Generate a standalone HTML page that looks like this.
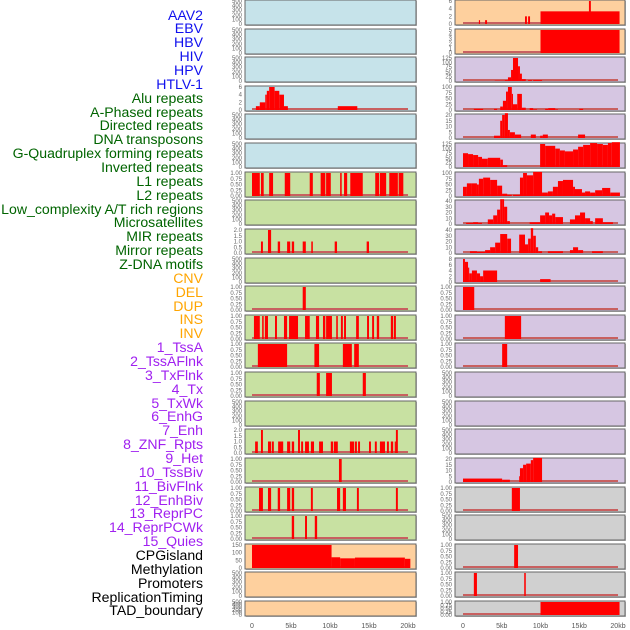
<!DOCTYPE html>
<html><head><meta charset="utf-8">
<style>
body{margin:0;background:#fff;}
#c{position:relative;width:630px;height:630px;overflow:hidden;font-family:"Liberation Sans",sans-serif;}
.lab{position:absolute;right:427px;font-size:14.1px;line-height:14px;white-space:nowrap;}
</style></head>
<body>
<div id="c">
<svg id="s" width="630" height="630" style="position:absolute;left:0;top:0"></svg>
</div>
<script>
const labels=["AAV2","EBV","HBV","HIV","HPV","HTLV-1","Alu repeats","A-Phased repeats","Directed repeats","DNA transposons","G-Quadruplex forming repeats","Inverted repeats","L1 repeats","L2 repeats","Low_complexity A/T rich regions","Microsatellites","MIR repeats","Mirror repeats","Z-DNA motifs","CNV","DEL","DUP","INS","INV","1_TssA","2_TssAFlnk","3_TxFlnk","4_Tx","5_TxWk","6_EnhG","7_Enh","8_ZNF_Rpts","9_Het","10_TssBiv","11_BivFlnk","12_EnhBiv","13_ReprPC","14_ReprPCWk","15_Quies","CPGisland","Methylation","Promoters","ReplicationTiming","TAD_boundary"];
const labelGroups=[6,13,5,15,5];
const groupColors=["#1010ee","#006400","#ffa500","#a020f0","#000000"];
const xTicks=[0,5,10,15,20];
const xTickLabels=["0","5kb","10kb","15kb","20kb"];
const tE=[0,100,200,300,400,500];
const t1=[0,0.25,0.5,0.75,1];
const t1L=["0.00","0.25","0.50","0.75","1.00"];
const t2=[0,0.5,1,1.5,2];
const t2L=["0.0","0.5","1.0","1.5","2.0"];
// segments: [startKb, endKb, value]
const L4=[[0.5,1,1],[1,1.7,2],[1.7,1.9,4],[1.9,2.2,5],[2.2,2.9,6],[2.9,3.5,5],[3.5,4.1,4],[4.1,4.6,1],[11,13.5,1]];
const L7=[[0,1,1],[1.15,1.5,1],[2.2,2.7,1],[4.2,4.9,1],[7.4,7.8,1],[8.8,9.4,1],[9.5,10.1,1],[11.3,11.5,1],[11.8,12.2,1],[12.6,14.2,1],[15.8,16.3,1],[16.4,17.2,1],[17.6,18.7,1],[18.8,19.4,1]];
const L9=[[1.15,1.4,1],[2.05,2.45,2],[3.3,3.6,1],[4.5,4.9,1],[5.1,5.4,1],[6.5,6.9,1],[7.6,7.8,1],[10.6,10.9,1],[14.7,15,1]];
const L11=[[6.5,6.9,1]];
const L12=[[0.25,1,1],[1.3,1.5,1],[1.65,2.05,1],[2.95,3.2,1],[4.1,4.5,1],[4.75,5.9,1],[6.8,7.4,1],[8.2,8.6,1],[9.1,9.4,1],[9.5,10.25,1],[10.8,11,1],[11.4,11.65,1],[11.8,12.05,1],[13.35,13.7,1],[14.75,15,1],[15.4,15.65,1],[16,16.3,1],[17.8,18.1,1],[18.2,18.45,1]];
const L13=[[0.75,4.5,1],[8,8.6,1],[11.65,12.8,1],[13.1,13.7,1]];
const L14=[[8.3,8.7,1],[9.5,10.25,1],[14.2,14.6,1]];
const L16=[[0.4,0.75,1],[1.15,1.4,2],[2.05,2.45,1],[2.55,2.8,1],[3.35,4,1],[4.5,4.9,1],[5.1,5.4,1],[5.9,6.15,2],[6.3,6.55,1],[6.8,7.3,1],[7.55,7.95,1],[8.6,9.1,1],[10.1,10.4,1],[10.5,11,1],[12.55,13.1,1],[13.2,13.45,1],[13.6,13.85,1],[15,15.25,1],[15.75,16,1],[16.4,17.05,1],[17.3,17.55,1],[17.8,18.1,1],[18.3,18.45,1],[18.45,18.7,2]];
const L17=[[11.15,11.5,1]];
const L18=[[0.9,1.4,1],[2.05,2.45,1],[3.3,3.6,1],[4.5,4.9,1],[5.1,5.4,1],[7.55,7.8,1],[10.9,11.3,1],[11.65,12.05,1],[13.45,13.7,1],[18.45,18.7,1]];
const L19=[[5.1,5.4,1],[6.8,7.05,1],[8.05,8.35,1]];
const L20=[[0,10.2,150],[10.2,11.3,70],[11.3,13.2,63],[13.2,19.6,68],[19.6,20.3,60]];
const R1=[[2.05,2.2,1],[2.85,3.1,1],[8,8.25,2],[8.4,8.65,2],[10,20.2,3.3],[16.25,16.5,6]];
const R2=[[10,20.2,5]];
const R3=[[4.1,5.4,2],[5.4,5.8,5],[5.8,6.2,20],[6.2,6.45,60],[6.45,7.1,125],[7.1,7.35,80],[7.35,7.6,40],[7.6,8.1,10],[8.4,8.9,5],[9.05,10.2,5]];
const R4=[[1.4,2.6,5],[4,4.4,5],[4.8,5.15,15],[5.15,5.55,40],[5.55,5.8,80],[5.8,6.3,100],[6.3,6.45,70],[6.45,7,25],[7,7.6,70],[7.6,8.1,10],[8.6,9.05,8],[9.05,9.55,3],[10.6,11,5],[11,11.9,8],[11.9,12.25,3],[15,15.5,5]];
const R5=[[4,4.8,2],[4.8,5.05,15],[5.05,5.4,20],[5.4,5.8,22],[5.8,6.05,7],[6.05,6.7,5],[6.7,7.5,3],[8.75,9.4,3],[9.95,10.3,2],[10.3,10.95,3],[14.85,15.75,3]];
const R6=[[0,0.65,75],[0.65,1.3,70],[1.3,1.95,65],[1.95,2.45,55],[2.45,3.2,45],[3.2,4.8,50],[4.8,5.15,40],[5.15,5.7,10],[9.95,10.6,125],[10.6,11.9,115],[11.9,12.5,100],[12.5,13.15,90],[13.15,14.2,85],[14.2,14.85,95],[14.85,15.5,110],[15.5,16.4,120],[16.4,17.3,130],[17.3,18.05,125],[18.05,18.7,120],[18.7,19.2,130],[19.2,20.25,140]];
const R7=[[0,0.5,40],[0.5,1.15,55],[1.15,1.8,55],[1.8,2.05,50],[2.05,2.6,75],[2.6,3.5,80],[3.5,4.4,70],[4.4,5.05,45],[5.05,5.7,10],[5.7,6.3,5],[6.45,7.35,5],[7.35,7.75,80],[7.75,8.25,100],[8.25,9.05,90],[9.05,10.2,105],[10.2,10.95,15],[10.95,11.6,20],[11.6,12.25,40],[12.25,12.9,65],[12.9,14.2,70],[14.2,14.45,40],[14.45,15.35,30],[15.35,15.75,15],[15.75,16.4,20],[16.4,17.05,15],[17.05,17.95,25],[17.95,19,35],[19,20.25,15]];
const R8=[[0.4,1.3,2],[1.3,1.95,3],[1.95,2.45,2],[3.2,3.9,8],[3.9,4.4,15],[4.4,4.8,25],[4.8,5.05,45],[5.05,5.3,50],[5.3,5.7,30],[5.7,6.05,5],[8.6,9.95,3],[9.95,10.6,15],[10.6,11.1,20],[11.1,11.5,15],[11.5,11.9,18],[11.9,12.9,12],[13.8,14.45,8],[14.45,15.1,15],[15.1,15.75,20],[15.75,16.4,10],[16.4,16.75,5],[17.05,18.05,10],[18.05,19.35,3]];
const R9=[[0.9,1.8,3],[1.8,2.85,2],[2.85,3.5,5],[3.5,4.15,10],[4.15,4.8,18],[4.8,5.7,33],[5.7,6.2,25],[7.25,8,32],[8,8.4,15],[8.4,8.75,25],[8.75,9.05,45],[9.05,9.4,30],[9.4,9.7,10],[9.7,10.2,3],[10.95,12.9,3],[13.8,14.2,5],[14.2,14.85,10],[14.85,15.5,5],[16.65,18.05,3]];
const R10=[[0,0.25,8],[0.25,0.65,7],[0.65,0.8,5],[0.8,1.15,3],[1.15,1.8,4],[1.8,2.2,3],[2.2,2.6,2],[2.6,4.4,4],[9.95,11.3,1]];
const R11=[[0,1.45,1]];
const R12=[[5.4,7.5,1]];
const R13=[[5.05,5.7,1]];
const R17=[[0,5.05,3],[5.05,6.05,2],[7.25,7.35,5],[7.35,7.75,12],[7.75,8.15,15],[8.15,8.75,16],[8.75,9.05,19],[9.05,10.2,21]];
const R18=[[6.3,7.35,1]];
const R20=[[6.6,7.1,1]];
const R21=[[1.4,1.8,1],[7.9,8.1,1]];
const R22=[[10,20.2,1]];

const BL="#c6e3ea",GR="#c8e1a2",OR="#fed09e",PU="#d6c6e2",GY="#d0d0d0";
const panels=[
 ["L",0,BL,tE,null,null],["L",1,BL,tE,null,null],["L",2,BL,tE,null,null],
 ["L",3,BL,[0,2,4,6],null,L4],["L",4,BL,tE,null,null],["L",5,BL,tE,null,null],
 ["L",6,GR,t1,t1L,L7],["L",7,GR,tE,null,null],["L",8,GR,t2,t2L,L9],["L",9,GR,tE,null,null],
 ["L",10,GR,t1,t1L,L11],["L",11,GR,t1,t1L,L12],["L",12,GR,t1,t1L,L13],["L",13,GR,t1,t1L,L14],
 ["L",14,GR,tE,null,null],["L",15,GR,t2,t2L,L16],["L",16,GR,t1,t1L,L17],["L",17,GR,t1,t1L,L18],
 ["L",18,GR,t1,t1L,L19],["L",19,OR,[0,50,100,150],null,L20],["L",20,OR,tE,null,null],["L",21,OR,tE,null,null],
 ["R",0,OR,[0,2,4,6],null,R1],["R",1,OR,[0,1,2,3,4,5],null,R2],["R",2,PU,[0,25,50,75,100,125],null,R3],
 ["R",3,PU,[0,25,50,75,100],null,R4],["R",4,PU,[0,5,10,15,20],null,R5],["R",5,PU,[0,25,50,75,100,125],null,R6],
 ["R",6,PU,[0,25,50,75,100],null,R7],["R",7,PU,[0,10,20,30,40],null,R8],["R",8,PU,[0,10,20,30,40],null,R9],
 ["R",9,PU,[0,2,4,6,8],null,R10],["R",10,PU,t1,t1L,R11],["R",11,PU,t1,t1L,R12],["R",12,PU,t1,t1L,R13],
 ["R",13,PU,tE,null,null],["R",14,PU,tE,null,null],["R",15,PU,tE,null,null],["R",16,PU,[0,5,10,15,20],null,R17],
 ["R",17,GY,t1,t1L,R18],["R",18,GY,tE,null,null],["R",19,GY,t1,t1L,R20],["R",20,GY,t1,t1L,R21],["R",21,GY,t1,t1L,R22]
];
const NS="http://www.w3.org/2000/svg";
const svg=document.getElementById('s');
function mk(t,a,p){const e=document.createElementNS(NS,t);for(const k in a)e.setAttribute(k,a[k]);(p||svg).appendChild(e);return e;}
const colGeom={L:{x0:245,x1:416,k0:252,k20:408},R:{x0:455,x1:625,k0:463,k20:618}};
function xs(c,kb){const g=colGeom[c];return g.k0+(g.k20-g.k0)*kb/20;}
panels.forEach((p,i)=>{
 const [c,r,bg,ticks,tl,segs]=p;const g=colGeom[c];
 const top=Math.round(r*28.62);const h=r===21?15:25;
 const grp=mk('g',{});
 
 
 mk('rect',{x:g.x0+1,y:top+1,width:g.x1-g.x0,height:h,fill:'#bbb'},grp);
 mk('rect',{x:g.x0,y:top,width:g.x1-g.x0,height:h,fill:bg,stroke:'#666','stroke-width':1},grp);
 const tmax=ticks[ticks.length-1];const y0=top+h-1,y1=top+1;
 const ys=v=>y0-(y0-y1)*v/tmax;
 ticks.forEach((t,j)=>{const tx=mk('text',{x:g.x0-3,y:ys(t)+2,'font-size':6,fill:'#666','text-anchor':'end'},grp);
  
  
  tx.textContent=tl?tl[j]:String(t);});
 if(segs){
  mk('rect',{x:xs(c,0),y:y0-2,width:xs(c,20)-xs(c,0),height:2,fill:'#c86060'},grp);
  segs.forEach(s=>{const v=Math.min(s[2],tmax*1.08);
   const b=mk('rect',{x:xs(c,s[0]),y:ys(v),width:Math.max(1,xs(c,s[1])-xs(c,s[0])),height:y0-ys(v),fill:'#ff0000'},grp);
   
   });
 }
});
['L','R'].forEach(c=>{xTicks.forEach((t,j)=>{const tx=mk('text',{x:xs(c,t),y:628,'font-size':7,fill:'#555','text-anchor':'middle'});
 
 
 tx.textContent=xTickLabels[j];});});
const root=document.getElementById('c');let idx=0;
labelGroups.forEach((n,gi)=>{for(let k=0;k<n;k++){const d=document.createElement('div');d.className='lab';
 d.style.top=(7.5+idx*13.86)+'px';d.style.color=groupColors[gi];d.textContent=labels[idx];
 
 
 root.appendChild(d);idx++;}});
</script>
</body></html>
